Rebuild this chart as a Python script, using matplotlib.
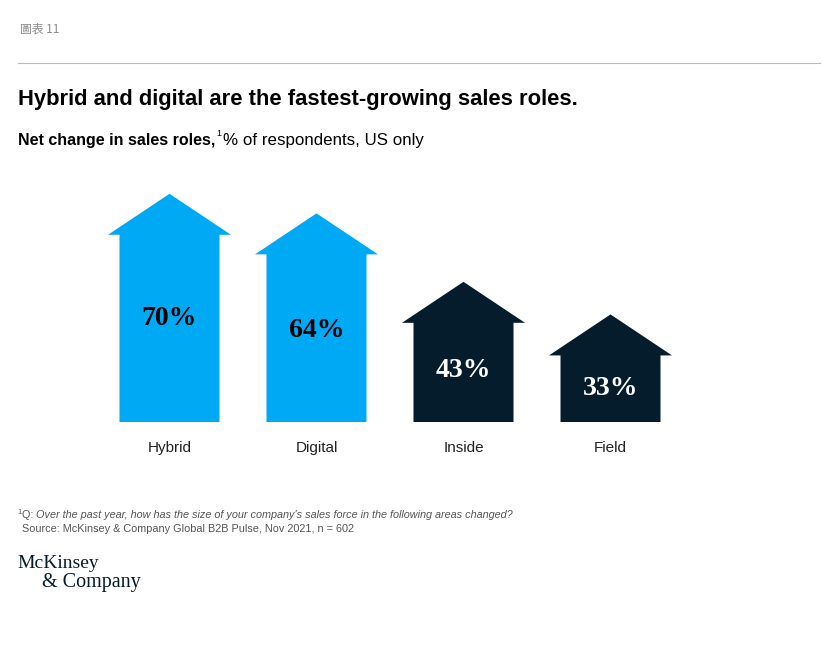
import matplotlib.pyplot as plt
from matplotlib.patches import Polygon

roles = ["Hybrid", "Digital", "Inside", "Field"]
net_change = [70, 64, 43, 33]
labels = ["70%", "64%", "43%", "33%"]
colours = ["#00A9F4", "#00A9F4", "#051C2C", "#051C2C"]
label_colours = ["#000000", "#000000", "#FFFFFF", "#FFFFFF"]

W, H = 822, 647
fig = plt.figure(figsize=(W / 100, H / 100), dpi=100)
renderer = fig.canvas.get_renderer()

def px(x, y):
    # pixel coords (from top-left) to figure fraction
    return x / W, 1 - y / H

def right_px(t):
    return t.get_window_extent(renderer).x1

# header
fig.text(*px(20, 29), "圖表 11", fontsize=8.5, color="#8a8a8a", va="center",
         family=["Noto Sans CJK TC", "DejaVu Sans"])
fig.add_artist(plt.Line2D([18 / W, 820 / W], [1 - 63 / H] * 2, color="#b8b8b8", lw=0.8))
fig.text(*px(18, 100), "Hybrid and digital are the fastest-growing sales roles.",
         fontsize=15.8, fontweight="bold", color="#000000", va="center", family="Liberation Sans")
t = fig.text(*px(18, 140), "Net change in sales roles,", fontsize=11.5, fontweight="bold",
             va="center", family="Liberation Sans")
x1 = right_px(t)
s = fig.text((x1 + 1) / W, 1 - 134 / H, "1", fontsize=6.5, va="center", family="Liberation Sans")
x2 = right_px(s)
fig.text((x2 + 2) / W, 1 - 140 / H, "% of respondents, US only", fontsize=12.2, va="center",
         family="Liberation Sans")

# chart area: bottom at y=422px, 3.26 px per %
ax_left, ax_right, ax_top, ax_bot = 90, 690, 180, 422
ax = fig.add_axes([ax_left / W, 1 - ax_bot / H, (ax_right - ax_left) / W, (ax_bot - ax_top) / H])
pitch = 147.0
ax.set_xlim((ax_left - 169.5) / pitch, (ax_right - 169.5) / pitch)
ax.set_ylim(0, (ax_bot - ax_top) / 3.26)
ax.axis("off")

shaft = 50 / pitch
head = 61.5 / pitch
head_h = 41 / 3.26

for i, (v, c) in enumerate(zip(net_change, colours)):
    base = v - head_h
    pts = [(i - shaft, 0), (i + shaft, 0), (i + shaft, base), (i + head, base),
           (i, v), (i - head, base), (i - shaft, base)]
    ax.add_patch(Polygon(pts, closed=True, facecolor=c, edgecolor="none"))
    ax.text(i, 0.58 * v - 9, labels[i], ha="center", va="center", fontsize=20,
            fontweight="bold", color=label_colours[i], family="Liberation Serif")
    ax.text(i, -26 / 3.26, roles[i], ha="center", va="center", fontsize=11,
            color="#222222", family="Liberation Sans", clip_on=False)

# footnotes
fn = dict(fontsize=7.85, color="#555555", va="center", family="Liberation Sans")
fig.text(*px(17, 512), "1", **{**fn, "fontsize": 5.5})
q = fig.text(*px(22, 515), "Q: ", **fn)
fig.text((right_px(q)) / W, 1 - 515 / H,
         "Over the past year, how has the size of your company's sales force in the following areas changed?",
         style="italic", **fn)
fig.text(*px(22, 529), "Source: McKinsey & Company Global B2B Pulse, Nov 2021, n = 602", **fn)

# logo
fig.text(*px(17, 563), "McKinsey", fontsize=14, color="#051C2C", va="center", family="Liberation Serif")
fig.text(*px(42, 583), "& Company", fontsize=14.5, color="#051C2C", va="center", family="Liberation Serif")

fig.savefig("out.png", dpi=100)
